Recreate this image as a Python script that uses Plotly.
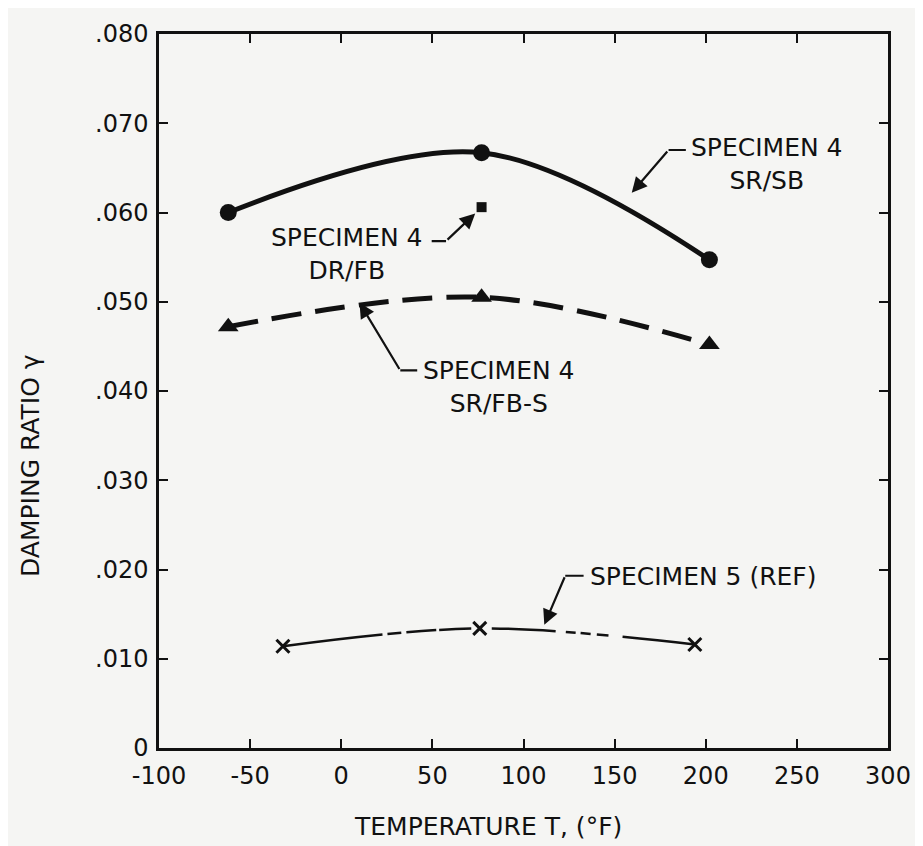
import plotly.graph_objects as go

# ---- data ----
temp_sr_sb = [-62, 77, 202]
damp_sr_sb = [0.0600, 0.0667, 0.0547]

temp_dr_fb = [77]
damp_dr_fb = [0.0606]

temp_sr_fbs = [-62, 77, 202]
damp_sr_fbs = [0.0472, 0.0505, 0.0452]

temp_ref = [-32, 76, 194]
damp_ref = [0.0114, 0.0134, 0.0116]

x_ticks = [-100, -50, 0, 50, 100, 150, 200, 250, 300]
x_tick_labels = ["-100", "-50", "0", "50", "100", "150", "200", "250", "300"]
y_ticks = [0, 0.01, 0.02, 0.03, 0.04, 0.05, 0.06, 0.07, 0.08]
y_tick_labels = ["0", ".010", ".020", ".030", ".040", ".050", ".060", ".070", ".080"]

INK = "#111111"
PAPER = "#f5f5f3"
FONT = "DejaVu Sans"

fig = go.Figure()

fig.add_trace(go.Scatter(
    x=temp_sr_sb, y=damp_sr_sb, mode="lines+markers",
    line=dict(color=INK, width=5, shape="spline"),
    marker=dict(symbol="circle", size=17, color=INK),
    name="SPECIMEN 4 SR/SB"))

fig.add_trace(go.Scatter(
    x=temp_dr_fb, y=damp_dr_fb, mode="markers",
    marker=dict(symbol="square", size=10, color=INK),
    name="SPECIMEN 4 DR/FB"))

fig.add_trace(go.Scatter(
    x=temp_sr_fbs, y=damp_sr_fbs, mode="lines+markers",
    line=dict(color=INK, width=5, shape="spline", dash="30px,14px"),
    marker=dict(symbol="triangle-up", size=18, color=INK),
    name="SPECIMEN 4 SR/FB-S"))

fig.add_trace(go.Scatter(
    x=temp_ref, y=damp_ref, mode="lines+markers",
    line=dict(color=INK, width=2.5, shape="spline",
              dash="100px,5px,14px,5px,30px,3px,32px,21px,64px,10px,10px,5px,10px,6px,12px,14px,80px,20px"),
    marker=dict(symbol="x-thin", size=13, color=INK, line=dict(color=INK, width=3)),
    name="SPECIMEN 5 (REF)"))

# ---- labels (layout, not data) ----
lab_font = dict(family=FONT, size=25, color=INK)
texts = [
    # text, x, y, xanchor
    ("SPECIMEN 4<br>SR/SB", 191.0, 0.0654, "left"),
    ("SPECIMEN 4<br>DR/FB", 46.0, 0.0554, "right"),
    ("SPECIMEN 4<br>SR/FB-S", 43.5, 0.0404, "left"),
    ("SPECIMEN 5 (REF)", 135.5, 0.0192, "left"),
]
annotations = []
for t, x, y, xa in texts:
    annotations.append(dict(text=t, x=x, y=y, xref="x", yref="y", xanchor=xa,
                            yanchor="middle", align="center", showarrow=False,
                            font=lab_font))

# leader lines: (tail_x, tail_y, tip_x, tip_y, head)
leaders = [
    (189.9, 0.0670, 179.6, 0.0670, 0),
    (179.6, 0.0670, 159.4, 0.0622, 2),
    (48.8, 0.0568, 57.5, 0.0568, 0),
    (57.5, 0.0568, 73.5, 0.0599, 2),
    (42.5, 0.0423, 32.4, 0.0423, 0),
    (32.4, 0.0423, 10.0, 0.0499, 2),
    (133.8, 0.0193, 122.9, 0.0193, 0),
    (122.9, 0.0193, 111.4, 0.0138, 2),
]
for ax, ay, x, y, h in leaders:
    annotations.append(dict(text="", x=x, y=y, ax=ax, ay=ay, xref="x", yref="y",
                            axref="x", ayref="y", showarrow=True, arrowhead=h,
                            arrowsize=1.4, arrowwidth=2.2, arrowcolor=INK, standoff=0,
                            startstandoff=0))

# axis titles
annotations.append(dict(text="TEMPERATURE T, (°F)", xref="paper", yref="paper",
                        x=0.451, y=-0.110, xanchor="center", yanchor="middle",
                        showarrow=False, font=dict(family=FONT, size=25, color=INK)))
annotations.append(dict(text="DAMPING RATIO γ", xref="paper", yref="paper",
                        x=-0.176, y=0.396, xanchor="center", yanchor="middle",
                        textangle=-90, showarrow=False,
                        font=dict(family=FONT, size=25, color=INK)))

axis_common = dict(showline=True, linecolor=INK, linewidth=2.5, mirror="ticks",
                   ticks="inside", ticklen=9, tickwidth=2, tickcolor=INK,
                   showgrid=False, zeroline=False,
                   tickfont=dict(family=FONT, size=24, color=INK))

# the page body adds an 8px margin, so the figure is 8px smaller and shifted
fig.update_layout(
    width=915, height=838,
    margin=dict(l=151, r=30, t=15, b=98),
    paper_bgcolor=PAPER, plot_bgcolor=PAPER,
    showlegend=False,
    annotations=annotations,
    xaxis=dict(range=[-100, 300], tickvals=x_ticks, ticktext=x_tick_labels,
               ticklabelstandoff=4, **axis_common),
    yaxis=dict(range=[0, 0.08], tickvals=y_ticks, ticktext=y_tick_labels,
               ticklabelstandoff=3, **axis_common),
)

fig.write_html("out.html")
